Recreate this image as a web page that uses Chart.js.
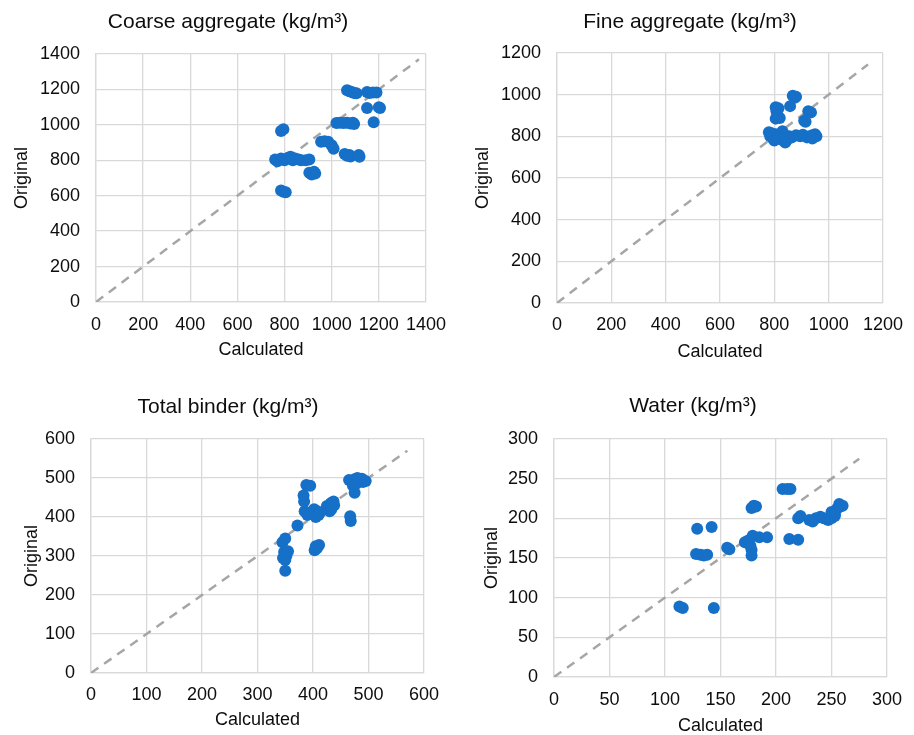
<!DOCTYPE html>
<html>
<head>
<meta charset="utf-8">
<script src="https://cdn.jsdelivr.net/npm/chart.js@4/dist/chart.umd.min.js"></script>
<style>
  body { margin: 0; background: #fff; }
  #wrap { position: relative; width: 914px; height: 735px; }
  .panel { position: absolute; }
</style>
</head>
<body>
<div id="wrap">
  <div class="panel" style="left:0;top:0"><canvas id="chartCoarse" width="460" height="370"></canvas></div>
  <div class="panel" style="left:460px;top:0"><canvas id="chartFine" width="454" height="370"></canvas></div>
  <div class="panel" style="left:0;top:370px"><canvas id="chartBinder" width="460" height="365"></canvas></div>
  <div class="panel" style="left:460px;top:370px"><canvas id="chartWater" width="454" height="365"></canvas></div>
</div>
<script>
// coarse aggregate: calculated vs original
var coarseCalc = [1065,1075,1085,1095,1105, 1150,1160,1175,1190, 1150,1200,1205, 1178,
  1020,1035,1050,1065,1080,1090,1095, 785,795, 955,970,985, 1000,1008,
  1055,1065,1075,1080,1115,1118, 760,770,785,800,815,825,835,845,860,870,
  890,905, 905,915,925,930, 785,795,805]
var coarseOrig = [1195,1190,1185,1180,1178, 1185,1180,1182,1182, 1095,1100,1095, 1015,
  1010,1012,1010,1012,1008,1012,1005, 965,975, 905,908,905, 885,865,
  835,825,830,822,830,820, 805,795,810,800,815,820,800,810,805,800,
  800,805, 730,720,735,725, 630,622,620]

// fine aggregate
var fineCalc = [868,880,875,858, 805,815,808,812,805,820, 935,925,910,915,
  780,785,795,805,815,825,835,845,855,865,880,895,905,920,930,940,950,955,940,840,830,790,800]
var fineOrig = [995,990,985,945, 940,935,920,900,885,888, 915,920,875,870,
  820,800,790,810,795,785,805,780,800,795,805,800,808,795,800,805,810,800,790,770,825,815,780]

// total binder
var binderCalc = [388,395,383,384,385,390,395,402,408,410,405,412,372,425,432,438,433,430,437,
  467,468,465,470,475,480,485,490,495,488,478,472,475,350,345,348,352,355,346,350,350,403,407,411,405]
var binderOrig = [482,480,455,440,415,405,410,420,415,405,400,410,378,428,435,430,420,415,440,
  402,390,495,490,497,500,495,490,492,498,485,480,462,345,335,310,300,312,295,290,262,315,320,328,325]

// water
var waterCalc = [206,210,213,178,180,182,220,222,230,233,236,240,243,247,250,253,250,255,257,258,253,260,
  129,142,128,132,135,138,156,158,172,175,177,178,178,176,179,185,192,212,220,113,116,144]
var waterOrig = [237,237,237,213,216,215,200,203,198,196,200,202,200,198,200,203,208,212,218,215,205,216,
  187,189,155,154,153,154,163,161,170,172,165,160,153,168,178,176,176,174,173,89,87,87]

// 1:1 reference line end for each panel
var lineEnds = [1370, 1145, 570, 275]
var axisMax = [1400, 1200, 600, 300]
var axisStep = [200, 200, 100, 50]

var fontFam = '"Liberation Sans", Arial, sans-serif'
var textColor = '#0d0d0d'
var dotColor = '#1670c8'

function toPoints(xs, ys) {
  return xs.map(function (x, i) { return { x: x, y: ys[i] } })
}

function plainTick(v) { return String(v) }

// g = plot box inside the canvas + where the texts sit
function makeChart(id, title, xs, ys, idx, g) {
  var canvas = document.getElementById(id)
  var W = canvas.width, H = canvas.height
  var end = lineEnds[idx]
  var padR = W - g.right
  // left padding only shifts the title box so it centres on g.titleX
  var padL = 2 * g.titleX - W + padR

  var tickOpts = {
    stepSize: axisStep[idx], color: textColor, maxRotation: 0, autoSkip: false,
    font: { family: fontFam, size: 18 }, callback: plainTick
  }

  new Chart(canvas, {
    type: 'scatter',
    data: {
      datasets: [{
        data: toPoints(xs, ys),
        backgroundColor: dotColor,
        borderColor: dotColor,
        borderWidth: 0,
        pointRadius: 6,
        order: 0
      }, {
        type: 'line',
        data: [{ x: 0, y: 0 }, { x: end, y: end }],
        borderColor: '#a6a6a6',
        borderWidth: 2.5,
        borderDash: [9, 7],
        pointRadius: 0,
        fill: false,
        order: 1
      }]
    },
    options: {
      responsive: false,
      animation: false,
      layout: { padding: { left: padL, top: 0, bottom: 0, right: padR } },
      plugins: {
        legend: { display: false },
        tooltip: { enabled: false },
        title: {
          display: true,
          text: title,
          color: textColor,
          font: { family: fontFam, size: 21, weight: 'normal' },
          padding: { top: g.titleY - 12.6, bottom: g.top - g.titleY - 12.6 }
        }
      },
      scales: {
        x: {
          type: 'linear',
          min: 0, max: axisMax[idx],
          grid: { color: '#d9d9d9', lineWidth: 1.3, drawTicks: false },
          border: { color: '#d9d9d9', width: 1.3 },
          ticks: Object.assign({ padding: g.xPad }, tickOpts),
          title: {
            display: true, text: 'Calculated', color: textColor,
            font: { family: fontFam, size: 18 },
            padding: { top: 0, bottom: H - g.xTitleY - 10.8 }
          },
          afterFit: function (s) { s.height = H - g.bottom }
        },
        y: {
          type: 'linear',
          min: 0, max: axisMax[idx],
          grid: { color: '#d9d9d9', lineWidth: 1.3, drawTicks: false },
          border: { color: '#d9d9d9', width: 1.3 },
          ticks: Object.assign({ padding: 16 }, tickOpts),
          title: {
            display: true, text: 'Original', color: textColor,
            font: { family: fontFam, size: 18 },
            padding: { top: g.yTitleX - padL - 10.8, bottom: 0 }
          },
          afterFit: function (s) { s.width = g.left - padL }
        }
      }
    }
  })
}

makeChart('chartCoarse', 'Coarse aggregate (kg/m³)', coarseCalc, coarseOrig, 0,
  { left: 96, right: 426, top: 54, bottom: 302, titleX: 228, titleY: 22, xTitleY: 350, yTitleX: 22, xPad: 12 })
makeChart('chartFine', 'Fine aggregate (kg/m³)', fineCalc, fineOrig, 1,
  { left: 97, right: 428, top: 53, bottom: 303, titleX: 230, titleY: 22, xTitleY: 352, yTitleX: 23, xPad: 11 })
makeChart('chartBinder', 'Total binder (kg/m³)', binderCalc, binderOrig, 2,
  { left: 91, right: 424, top: 69, bottom: 303, titleX: 228, titleY: 37, xTitleY: 350, yTitleX: 32, xPad: 11 })
makeChart('chartWater', 'Water (kg/m³)', waterCalc, waterOrig, 3,
  { left: 94, right: 430, top: 69, bottom: 307, titleX: 233, titleY: 36, xTitleY: 356, yTitleX: 32, xPad: 12 })
</script>
</body>
</html>
